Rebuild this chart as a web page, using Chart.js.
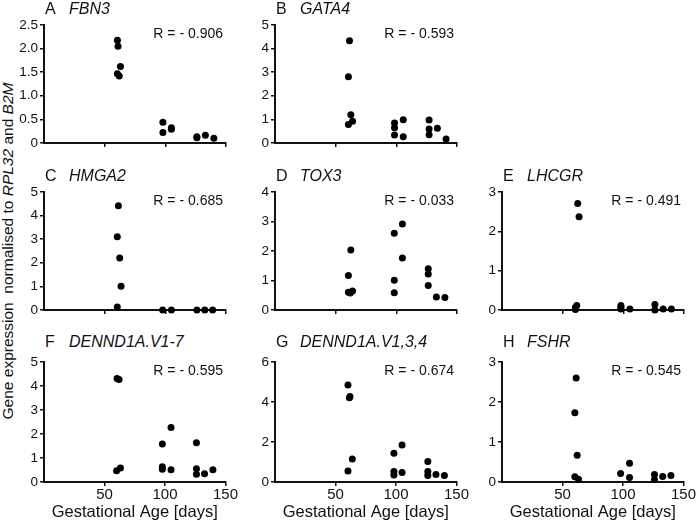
<!DOCTYPE html>
<html lang="en">
<head>
    <meta charset="UTF-8">
    <title>Gene expression vs gestational age</title>
    <script src="https://cdn.jsdelivr.net/npm/chart.js"></script>
    <style>
        body {
            margin: 0;
            background: #fff;
            font-family: 'Liberation Sans', Arial, sans-serif;
            color: #111;
        }

        #wrap {
            position: relative;
            width: 696px;
            height: 522px;
            overflow: hidden;
        }

        .panel {
            position: absolute;
        }

        .title {
            position: absolute;
            font-size: 16px;
            line-height: 18px;
            white-space: nowrap;
        }

        .title span {
            display: inline-block;
            width: 24px;
        }

        .rval {
            position: absolute;
            font-size: 14px;
            line-height: 18px;
            white-space: nowrap;
            text-align: right;
        }

        .ytitle {
            position: absolute;
            left: -192px;
            top: 242px;
            width: 400px;
            height: 18px;
            line-height: 18px;
            font-size: 15.5px;
            text-align: center;
            white-space: nowrap;
            transform: rotate(-90deg);
        }
    </style>
</head>
<body>
    <div id="wrap">
        <div class="ytitle">Gene expression&nbsp; normalised to <i>RPL32</i> and <i>B2M</i></div>
    </div>

    <script>
        // values: gestational age (days) and expression
        const ageFBN3 = [60.5, 61, 63, 60.5, 62, 98, 98, 105, 105, 126, 126, 133, 140];
        const valFBN3 = [2.18, 2.05, 1.62, 1.47, 1.42, 0.44, 0.22, 0.32, 0.29, 0.13, 0.11, 0.16, 0.10];

        const ageGATA4 = [61.4, 60.5, 62.5, 60.5, 63.9, 98.5, 98.5, 98.5, 105.7, 105.7, 127, 127, 127, 133.8, 141];
        const valGATA4 = [4.34, 2.81, 1.19, 0.78, 0.92, 0.84, 0.64, 0.34, 0.98, 0.26, 0.97, 0.59, 0.35, 0.62, 0.17];

        const ageHMGA2 = [61.3, 60.4, 62.4, 63.5, 60.4, 97.8, 105, 126, 132.5, 139];
        const valHMGA2 = [4.42, 3.10, 2.20, 1.0, 0.12, 0, 0, 0, 0, 0];

        const ageTOX3 = [62.5, 60.5, 60.5, 62, 63.9, 98.3, 98.3, 98.3, 105, 105, 126.3, 126.3, 126.3, 133, 140];
        const valTOX3 = [2.03, 1.17, 0.60, 0.57, 0.64, 2.60, 1.01, 0.58, 2.92, 1.76, 1.40, 1.22, 0.83, 0.44, 0.42];

        const ageLHCGR = [62.4, 63.5, 61.6, 60.5, 60.5, 98, 98, 98, 105.4, 126, 126, 132.8, 139.6];
        const valLHCGR = [2.71, 2.37, 0.11, 0.06, 0.01, 0.11, 0.07, 0.02, 0.02, 0.14, 0, 0.02, 0.02];

        const ageV17 = [60.4, 62, 60, 63.2, 97.8, 97.8, 97.8, 105, 105, 126, 126, 126, 132.7, 139.6];
        const valV17 = [4.32, 4.27, 0.47, 0.58, 1.58, 0.64, 0.53, 2.27, 0.51, 1.64, 0.55, 0.32, 0.34, 0.51];

        const ageV134 = [60.3, 62, 61.5, 63.9, 60.3, 98.3, 98.3, 98.3, 105, 105, 126.3, 126.3, 126.3, 133, 140];
        const valV134 = [4.85, 4.28, 4.22, 1.15, 0.55, 1.44, 0.53, 0.35, 1.85, 0.47, 1.03, 0.53, 0.33, 0.37, 0.33];

        const ageFSHR = [61.3, 60.2, 62.1, 60.2, 63.2, 98, 105.4, 105.4, 126, 126, 132.8, 139.6];
        const valFSHR = [2.60, 1.73, 0.67, 0.13, 0.07, 0.21, 0.47, 0.11, 0.19, 0.06, 0.14, 0.16];

        const xTicks = [0, 50, 100, 150];

        const panels = [
            { letter: 'A', gene: 'FBN3', r: 'R = - 0.906', x: ageFBN3, y: valFBN3, max: 2.5, step: 0.5, col: 0, row: 0 },
            { letter: 'B', gene: 'GATA4', r: 'R = - 0.593', x: ageGATA4, y: valGATA4, max: 5, step: 1, col: 1, row: 0 },
            { letter: 'C', gene: 'HMGA2', r: 'R = - 0.685', x: ageHMGA2, y: valHMGA2, max: 5, step: 1, col: 0, row: 1 },
            { letter: 'D', gene: 'TOX3', r: 'R = - 0.033', x: ageTOX3, y: valTOX3, max: 4, step: 1, col: 1, row: 1 },
            { letter: 'E', gene: 'LHCGR', r: 'R = - 0.491', x: ageLHCGR, y: valLHCGR, max: 3, step: 1, col: 2, row: 1 },
            { letter: 'F', gene: 'DENND1A.V1-7', r: 'R = - 0.595', x: ageV17, y: valV17, max: 5, step: 1, col: 0, row: 2 },
            { letter: 'G', gene: 'DENND1A.V1,3,4', r: 'R = - 0.674', x: ageV134, y: valV134, max: 6, step: 2, col: 1, row: 2 },
            { letter: 'H', gene: 'FSHR', r: 'R = - 0.545', x: ageFSHR, y: valFSHR, max: 3, step: 1, col: 2, row: 2 }
        ];

        // grid of plot areas
        const colLeft = [44, 275, 502];
        const rowTop = [25, 192, 362];
        const titleTop = [0, 167, 333];
        const plotW = 182;
        const plotH = 120;
        const yAxisW = 40;
        const padTop = 10;
        const padRight = 12;

        const wrap = document.getElementById('wrap');

        panels.forEach(p => {
            const bottomRow = p.row === 2;
            const xAxisH = bottomRow ? 40 : 8;
            const left = colLeft[p.col];
            const top = rowTop[p.row];

            const canvas = document.createElement('canvas');
            canvas.className = 'panel';
            canvas.width = yAxisW + plotW + padRight;
            canvas.height = padTop + plotH + xAxisH;
            canvas.style.left = (left - yAxisW) + 'px';
            canvas.style.top = (top - padTop) + 'px';
            wrap.appendChild(canvas);

            const title = document.createElement('div');
            title.className = 'title';
            title.style.left = (left + 1) + 'px';
            title.style.top = titleTop[p.row] + 'px';
            title.innerHTML = '<span>' + p.letter + '</span><i>' + p.gene + '</i>';
            wrap.appendChild(title);

            const rv = document.createElement('div');
            rv.className = 'rval';
            rv.style.right = (696 - (left + plotW - 3)) + 'px';
            rv.style.top = (top - 1) + 'px';
            rv.textContent = p.r;
            wrap.appendChild(rv);

            new Chart(canvas, {
                type: 'scatter',
                data: {
                    datasets: [{
                        data: p.x.map((v, i) => ({ x: v, y: p.y[i] })),
                        backgroundColor: '#000',
                        borderWidth: 0,
                        pointRadius: 3.5,
                        pointHoverRadius: 3.5,
                        clip: false
                    }]
                },
                options: {
                    responsive: false,
                    animation: false,
                    devicePixelRatio: 1,
                    layout: { padding: { top: padTop, right: padRight, left: 0, bottom: 0 } },
                    plugins: { legend: { display: false }, tooltip: { enabled: false } },
                    scales: {
                        x: {
                            type: 'linear',
                            min: xTicks[0],
                            max: xTicks[xTicks.length - 1],
                            afterBuildTicks: s => { s.ticks = xTicks.map(v => ({ value: v })); },
                            afterFit: s => { s.height = xAxisH; },
                            ticks: {
                                padding: 0,
                                color: '#111',
                                font: { family: "'Liberation Sans', Arial", size: 15 },
                                callback: v => (bottomRow && v !== 0) ? String(v) : ''
                            },
                            grid: {
                                drawOnChartArea: false,
                                tickLength: 4,
                                lineWidth: 1.5,
                                color: ctx => (ctx.tick && ctx.tick.value === 0) ? 'rgba(0,0,0,0)' : '#111'
                            },
                            border: { color: '#111', width: 2 },
                            title: {
                                display: bottomRow,
                                text: 'Gestational Age [days]',
                                color: '#111',
                                font: { family: "'Liberation Sans', Arial", size: 16.5 },
                                padding: { top: 0, bottom: 0 }
                            }
                        },
                        y: {
                            min: 0,
                            max: p.max,
                            afterFit: s => { s.width = yAxisW; },
                            ticks: {
                                stepSize: p.step,
                                padding: 2,
                                color: '#111',
                                font: { family: "'Liberation Sans', Arial", size: 13.5 },
                                callback: v => v === 0 ? '0' : (p.step < 1 ? v.toFixed(1) : String(v))
                            },
                            grid: {
                                drawOnChartArea: false,
                                tickLength: 4,
                                lineWidth: 1.5,
                                color: '#111'
                            },
                            border: { color: '#111', width: 2 }
                        }
                    }
                }
            });
        });
    </script>
</body>
</html>
